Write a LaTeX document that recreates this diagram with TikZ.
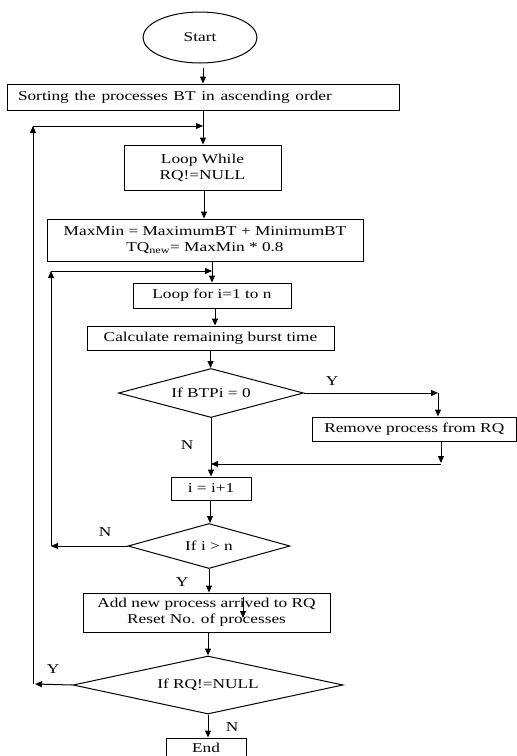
\documentclass[tikz,border=0pt]{standalone}
\usepackage{fontspec}
\setmainfont{Liberation Serif}
\usepackage{graphicx}
\usetikzlibrary{shapes.geometric,arrows.meta}
\newcommand{\sx}[1]{\scalebox{1.28}[1]{#1}}
\begin{document}
\begin{tikzpicture}[x=1pt,y=-1pt,
  every node/.style={font=\fontsize{13.5}{16}\selectfont, inner sep=0pt},
  arr/.style={line width=1pt,-{Triangle[length=7pt,width=6pt]}},
  rbox/.style={draw, line width=1pt, rectangle, align=center},
  dbox/.style={draw, line width=1pt, diamond, align=center},
  lbl/.style={font=\fontsize{13.5}{16}\selectfont}
]
\useasboundingbox (0,0) rectangle (517,756);
\fill[white] (0,0) rectangle (517,756);

% nodes
\node[draw, line width=1pt, ellipse, minimum width=114pt, minimum height=51pt] (start) at (200,37.5) {\sx{Start}};
\node[rbox, minimum width=392pt, minimum height=26pt, text width=370pt, inner xsep=11pt, align=left] (sort) at (203,97) {\sx{Sorting the processes BT in ascending order}};
\node[rbox, minimum width=157pt, minimum height=45pt] (loopw) at (202.5,167.5) {\sx{Loop While}\\\sx{RQ!=NULL}};
\node[rbox, minimum width=316pt, minimum height=42pt] (maxmin) at (205,240) {\sx{MaxMin = MaximumBT + MinimumBT}\\\sx{TQ\textsubscript{new}= MaxMin * 0.8}};
\node[rbox, minimum width=158pt, minimum height=25pt] (loopfor) at (212,295.5) {\sx{Loop for i=1 to n}};
\node[rbox, minimum width=247pt, minimum height=24pt] (calc) at (210.5,338) {\sx{Calculate remaining burst time}};
\node[dbox, minimum width=185pt, minimum height=49pt, aspect=3.8] (d1) at (211,393) {\sx{If BTPi = 0}};
\node[rbox, minimum width=204.5pt, minimum height=24pt] (remove) at (414.25,429) {\sx{Remove process from RQ}};
\node[rbox, minimum width=80pt, minimum height=23pt] (inc) at (211,488.5) {\sx{i = i+1}};
\node[dbox, minimum width=162pt, minimum height=45pt, aspect=3.6] (d2) at (209,546) {\sx{If i > n}};
\node[rbox, minimum width=247pt, minimum height=39pt] (add) at (206.5,612.5) {\sx{Add new process arrived to RQ}\\\sx{Reset No. of processes}};
\node[dbox, minimum width=270pt, minimum height=58pt, aspect=4.6] (d3) at (208,685) {\sx{If RQ!=NULL}};
\node[rbox, minimum width=80pt, minimum height=20pt] (end) at (206,748) {\sx{End}};

% labels
\node[lbl] (ly1) at (332,381) {\sx{Y}};
\node[lbl] (ln1) at (187,445) {\sx{N}};
\node[lbl] (ln2) at (105,532) {\sx{N}};
\node[lbl] (ly2) at (182,582) {\sx{Y}};
\node[lbl] (ly3) at (53,669) {\sx{Y}};
\node[lbl] (ln3) at (232,727) {\sx{N}};

% coordinates
\coordinate (oy1) at (33,684);
\coordinate (oy2) at (33,126);
\coordinate (iy1) at (51,546);
\coordinate (iy2) at (51,271);
\coordinate (ry) at (438,393);
\coordinate (rx) at (441,441);
\coordinate (rj) at (441,464);
\coordinate (sa) at (243,597);
\coordinate (sb) at (243,618);
\coordinate (xa) at (204,0);
\coordinate (xb) at (210,0);
\coordinate (xc) at (215,0);

% connectors
\draw[arr] ([yshift=-4pt]start.south -| sort.north) -- (sort.north);
\draw[arr] (sort.south) -- (sort.south |- loopw.north);
\draw[arr] (xa |- loopw.south) -- (xa |- maxmin.north);
\draw[arr] (maxmin.south -| loopfor.north) -- (loopfor.north);
\draw[arr] (xc |- loopfor.south) -- (xc |- calc.north);
\draw[arr] (calc.south) -- (calc.south |- d1.north);
\draw[arr] (d1.east) -- (ry);
\draw[arr] (ry) -- (ry |- remove.north);
\draw[arr] (rx) -- ([yshift=1pt]rj);
\draw[arr] (rj) -- (rj -| d1.south);
\draw[arr] (d1.south) -- (d1.south |- inc.north);
\draw[arr] (xb |- inc.south) -- (xb |- d2.north);
\draw[arr] (d2.south) -- (d2.south |- add.north);
\draw[arr] (sa) -- (sb);
\draw[arr] (add.south -| d3.north) -- (d3.north);
\draw[arr] (d3.south) -- (d3.south |- end.north);
\draw[arr] (d2.west) -- (iy1);
\draw[arr] (iy1) -- (iy2);
\draw[arr] (iy2) -- (iy2 -| loopfor.north);
\draw[arr] (d3.west) -- ([xshift=2pt]oy1);
\draw[arr] (oy1) -- (oy2);
\draw[arr] (oy2) -- (oy2 -| sort.south);
\end{tikzpicture}
\end{document}
